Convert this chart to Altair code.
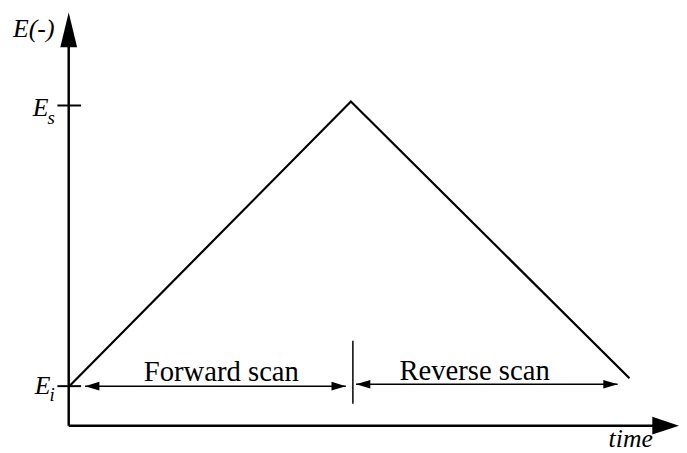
import altair as alt
import pandas as pd

# ---- data (time in units of switching time, E normalised so Ei=0, Es=1) ----
ramp_time = [0.0, 1.0, 1.989]
ramp_E = [0.0, 1.014, 0.028]

# segments: axes, tick marks, divider, span arrows
seg_name = ["y_axis", "x_axis", "tick_Es", "tick_Ei", "divider", "fwd_span", "rev_span"]
seg_t = [-0.002, -0.002, -0.042, -0.042, 1.007, 0.056, 1.018]
seg_t2 = [-0.002, 2.08, 0.042, 0.042, 1.007, 0.982, 1.947]
seg_E = [-0.141, -0.141, 1.0, 0.0, 0.162, 0.0, 0.007]
seg_E2 = [1.22, -0.141, 1.0, 0.0, -0.063, 0.0, 0.007]
seg_w = [2.5, 2.5, 2.0, 2.0, 1.5, 1.5, 1.5]

# arrow heads (tip positions)
head_t = [-0.002, 2.165, 0.056, 0.982, 1.018, 1.947]
head_E = [1.331, -0.141, 0.0, 0.0, 0.007, 0.007]
head_shape = [
    "M0,0 L-0.486,2 L0.486,2 Z",
    "M0,0 L-2,-0.667 L-2,0.667 Z",
    "M0,0 L1,-0.3 L1,0.3 Z",
    "M0,0 L-1,-0.3 L-1,0.3 Z",
    "M0,0 L1,-0.3 L1,0.3 Z",
    "M0,0 L-1,-0.3 L-1,0.3 Z",
]
head_size = [1225, 729, 841, 841, 841, 841]

# labels
roman_text = ["Forward scan", "Reverse scan"]
roman_t = [0.540, 1.439]
roman_E = [0.0176, 0.021]

italic_text = ["E(-)", "E", "E", "time"]
italic_t = [-0.0526, -0.130, -0.123, 1.915]
italic_E = [1.243, 0.961, -0.028, -0.218]
italic_align = ["right", "left", "left", "left"]

sub_text = ["s", "i"]
sub_t = [-0.077, -0.070]
sub_E = [0.933, -0.053]

# ---- scales mapping to page pixels ----
H = 445
xs = alt.Scale(domain=[-0.21754, 2.16491], nice=False, zero=False)
ys = alt.Scale(domain=[1.33803 - H / 284.0, 1.33803], nice=False, zero=False)
X = lambda f: alt.X(f, type="quantitative", scale=xs, axis=None)
Y = lambda f: alt.Y(f, type="quantitative", scale=ys, axis=None)

ramp = alt.Chart(pd.DataFrame({"t": ramp_time, "E": ramp_E})).mark_line(
    color="black", strokeWidth=2.2
).encode(x=X("t"), y=Y("E"), order="t:Q")

segs = alt.Chart(pd.DataFrame({"name": seg_name, "t": seg_t, "t2": seg_t2,
                               "E": seg_E, "E2": seg_E2, "w": seg_w})).mark_rule(
    color="black"
).encode(x=X("t"), x2="t2", y=Y("E"), y2="E2",
         strokeWidth=alt.StrokeWidth("w:Q", scale=None))

heads = alt.Chart(pd.DataFrame({"t": head_t, "E": head_E, "shape": head_shape,
                                "size": head_size})).mark_point(
    filled=True, color="black", opacity=1, strokeWidth=0
).encode(x=X("t"), y=Y("E"),
         shape=alt.Shape("shape:N", scale=None),
         size=alt.Size("size:Q", scale=None))

roman = alt.Chart(pd.DataFrame({"text": roman_text, "t": roman_t, "E": roman_E})).mark_text(
    font="Liberation Serif", fontSize=29, color="black", align="center", baseline="alphabetic"
).encode(x=X("t"), y=Y("E"), text="text:N")

italic_parts = []
for txt, t, e, al in zip(italic_text, italic_t, italic_E, italic_align):
    italic_parts.append(
        alt.Chart(pd.DataFrame({"text": [txt], "t": [t], "E": [e]})).mark_text(
            font="Liberation Serif", fontSize=26, fontStyle="italic", color="black",
            align=al, baseline="alphabetic"
        ).encode(x=X("t"), y=Y("E"), text="text:N")
    )

subs = alt.Chart(pd.DataFrame({"text": sub_text, "t": sub_t, "E": sub_E})).mark_text(
    font="Liberation Serif", fontSize=19, fontStyle="italic", color="black",
    align="left", baseline="alphabetic"
).encode(x=X("t"), y=Y("E"), text="text:N")

chart = alt.layer(ramp, segs, heads, roman, *italic_parts, subs).properties(
    width=679, height=H,
    autosize=alt.AutoSizeParams(type="none"),
    padding={"left": 0, "top": 0, "right": 0, "bottom": 0},
).configure(background="white").configure_view(stroke=None)

chart.save("out.html", embed_options={"renderer": "svg", "actions": False})
